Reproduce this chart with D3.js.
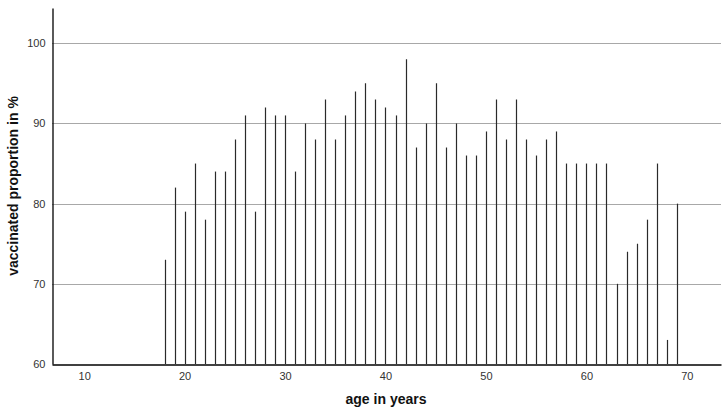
<!DOCTYPE html>
<html>
<head>
<meta charset="utf-8">
<script src="https://cdn.jsdelivr.net/npm/d3@7"></script>
<style>
  body { margin: 0; background: #fff; }
  text { font-family: "Liberation Sans", Arial, sans-serif; }
</style>
</head>
<body>
<svg width="728" height="412"></svg>
<script>
// age categories and vaccinated proportion (%)
var ages = [18, 19, 20, 21, 22, 23, 24, 25, 26, 27, 28, 29, 30, 31, 32, 33, 34, 35,
  36, 37, 38, 39, 40, 41, 42, 43, 44, 45, 46, 47, 48, 49, 50, 51, 52, 53, 54, 55,
  56, 57, 58, 59, 60, 61, 62, 63, 64, 65, 66, 67, 68, 69];
var proportions = [73, 82, 79, 85, 78, 84, 84, 88, 91, 79, 92, 91, 91, 84, 90, 88, 93, 88,
  91, 94, 95, 93, 92, 91, 98, 87, 90, 95, 87, 90, 86, 86, 89, 93, 88, 93, 88, 86,
  88, 89, 85, 85, 85, 85, 85, 70, 74, 75, 78, 85, 63, 80];
var xTicks = [10, 20, 30, 40, 50, 60, 70];
var yTicks = [60, 70, 80, 90, 100];

var svg = d3.select("svg");

var x = d3.scaleLinear().domain([6.8, 73.4]).range([52, 721]),
    y = d3.scaleLinear().domain([60, 104.4]).range([364, 8]);

// gridlines
svg.append("g")
    .selectAll("line")
    .data(yTicks.filter(function(d) { return d > 60; }))
    .enter().append("line")
    .attr("x1", x.range()[0])
    .attr("x2", x.range()[1])
    .attr("y1", function(d) { return Math.round(y(d)) + 0.5; })
    .attr("y2", function(d) { return Math.round(y(d)) + 0.5; })
    .attr("stroke", "#a8a8a8")
    .attr("stroke-width", 1);

// needle bars
svg.append("g")
    .selectAll("line")
    .data(ages)
    .enter().append("line")
    .attr("x1", function(d) { return Math.round(x(d)) + 0.5; })
    .attr("x2", function(d) { return Math.round(x(d)) + 0.5; })
    .attr("y1", y(60))
    .attr("y2", function(d, i) { return y(proportions[i]); })
    .attr("stroke", "#2a2a2a")
    .attr("stroke-width", 1.2);

// axes
var xAxis = svg.append("g")
    .attr("transform", "translate(0," + (Math.round(y(60)) + 0.5) + ")")
    .call(d3.axisBottom(x).tickValues(xTicks).tickSize(0).tickPadding(8));
var yAxis = svg.append("g")
    .attr("transform", "translate(" + (Math.round(x.range()[0]) + 0.5) + ",0)")
    .call(d3.axisLeft(y).tickValues(yTicks).tickSize(0).tickPadding(7));

[xAxis, yAxis].forEach(function(a) {
  a.select(".domain").attr("stroke", "#000").attr("stroke-width", 1.3);
  a.selectAll("text").attr("fill", "#333").style("font-size", "11px");
});

// axis titles
svg.append("text")
    .attr("x", 386)
    .attr("y", 404)
    .attr("text-anchor", "middle")
    .style("font-size", "14px")
    .style("font-weight", "bold")
    .attr("fill", "#111")
    .text("age in years");

svg.append("text")
    .attr("transform", "translate(18,186) rotate(-90)")
    .attr("text-anchor", "middle")
    .style("font-size", "14px")
    .style("font-weight", "bold")
    .attr("fill", "#111")
    .text("vaccinated proportion in %");
</script>
</body>
</html>
